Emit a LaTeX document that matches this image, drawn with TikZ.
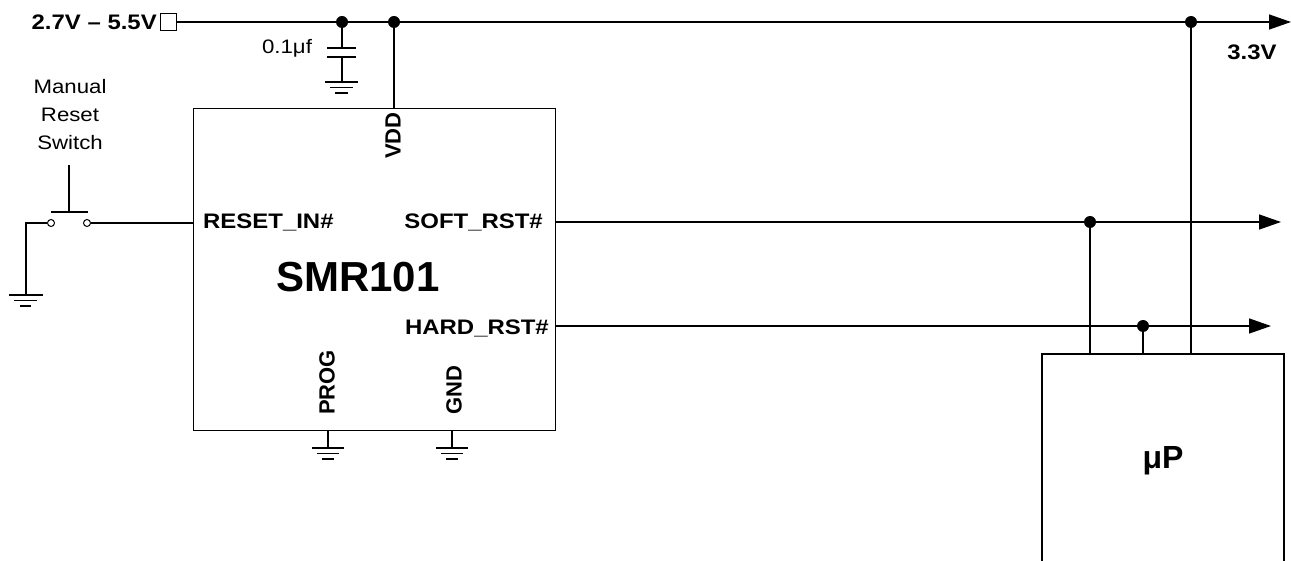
\documentclass[tikz,border=0pt]{standalone}
\usepackage{fontspec}
\usepackage{graphicx}
\setmainfont{Liberation Sans}
\usetikzlibrary{arrows.meta}
\newcommand{\hstretch}[1]{\scalebox{1.14}[1]{#1}}
\begin{document}
\begin{tikzpicture}[x=1pt,y=-1pt,
  wire/.style={line width=1.4pt},
  arr/.style={wire,-{Triangle[length=22pt,width=15pt]}},
  dot/.style={circle,fill=black,inner sep=0pt,minimum size=12pt},
  ring/.style={circle,draw,line width=1pt,fill=white,inner sep=0pt,minimum size=7pt},
  lbl/.style={font=\bfseries\fontsize{21}{24}\selectfont,inner sep=0pt},
  vlbl/.style={font=\bfseries\fontsize{22}{24}\selectfont,inner sep=0pt,rotate=90,anchor=west},
  txt/.style={font=\fontsize{19.5}{28}\selectfont,inner sep=0pt,align=center},
  box/.style={draw,line width=1.4pt,inner sep=0pt}
]
\useasboundingbox (0,0) rectangle (1291,561);

% supply input
\node[draw,line width=1pt,minimum width=16pt,minimum height=17pt,inner sep=0pt] (vin) at (168,22) {};
\node[lbl,anchor=east] (vinl) at (157,22) {\hstretch{2.7V -- 5.5V}};
\node[dot] (dcap) at (342,22) {};
\node[dot] (dvdd) at (394,22) {};
\node[dot] (dvcc) at (1191,22) {};
\coordinate (vout) at (1291,22);
\draw[wire] (vin.east) -- (dcap.center) -- (dvdd.center) -- (dvcc.center);
\draw[arr] (dvcc.center) -- (vout);
\node[lbl,anchor=center] (v33) at (1252,52) {\hstretch{3.3V}};

% capacitor
\coordinate (cp1) at (342,48);
\coordinate (cp2) at (342,57);
\coordinate (cg) at (342,82);
\draw[wire] (dcap.center) -- (cp1);
\draw[wire] (cp1 -| 327,0) -- (cp1 -| 356,0);
\draw[wire] (cp2 -| 327,0) -- (cp2 -| 356,0);
\draw[wire] (cp2) -- (cg);
\draw[wire] (cg -| 325,0) -- (cg -| 358,0);
\draw[wire] (330,87.5) -- (353,87.5);
\draw[wire] (335,93) -- (348,93);
\node[txt,anchor=center] (capl) at (287,48) {\hstretch{0.1μf}};

% chip
\node[box,minimum width=362pt,minimum height=322pt,anchor=north west] (chip) at (193,108) {};
\draw[wire] (dvdd.center) -- (dvdd.center |- chip.north);
\node[vlbl] (vddl) at (393,159) {VDD};
\node[lbl,anchor=west] (rstin) at (203,222) {\hstretch{RESET\_IN\#}};
\node[lbl,anchor=east] (softl) at (543,222) {\hstretch{SOFT\_RST\#}};
\node[lbl,anchor=east] (hardl) at (549,328) {\hstretch{HARD\_RST\#}};
\node[font=\bfseries\fontsize{42}{46}\selectfont,inner sep=0pt] (name) at (358,277) {SMR101};
\node[vlbl] (progl) at (327,415) {PROG};
\node[vlbl] (gndl) at (454,415) {GND};

% chip grounds
\foreach \gx/\gn in {328/gp,452/gg}{
  \coordinate (\gn) at (\gx,448);
  \draw[wire] (\gx,430) -- (\gn);
  \draw[wire] (\gx-16,448) -- (\gx+16,448);
  \draw[wire] (\gx-11,453.5) -- (\gx+11,453.5);
  \draw[wire] (\gx-6,459) -- (\gx+6,459);
}

% switch
\node[ring] (s1) at (51,223) {};
\node[ring] (s2) at (87,223) {};
\coordinate (sg) at (26,295);
\draw[wire] (s1.west) -- (26,223) -- (sg);
\draw[wire] (9,295) -- (43,295);
\draw[wire] (14,300.5) -- (37,300.5);
\draw[wire] (20,306) -- (31,306);
\draw[wire] (s2.east) -- (chip.west |- s2);
\draw[wire] (51,212) -- (88,212);
\draw[wire] (69,212) -- (69,165);
\node[txt,anchor=north] (swl) at (70,79) {\hstretch{Manual}\\\hstretch{Reset}\\\hstretch{Switch}};

% outputs
\node[dot] (dsoft) at (1090,222) {};
\node[dot] (dhard) at (1143,326) {};
\coordinate (softout) at (1281,222);
\coordinate (hardout) at (1271,326);
\draw[wire] (chip.east |- 0,222) -- (dsoft.center);
\draw[arr] (dsoft.center) -- (softout);
\draw[wire] (chip.east |- 0,326) -- (dhard.center);
\draw[arr] (dhard.center) -- (hardout);

% microprocessor
\coordinate (upl) at (1042,561);
\coordinate (upr) at (1284,561);
\coordinate (uptl) at (1042,354);
\coordinate (uptr) at (1284,354);
\draw[wire] (upl) -- (uptl) -- (uptr) -- (upr);
\draw[wire] (dsoft.center) -- (dsoft.center |- uptl);
\draw[wire] (dhard.center) -- (dhard.center |- uptl);
\draw[wire] (dvcc.center) -- (dvcc.center |- uptl);
\node[font=\bfseries\fontsize{32}{36}\selectfont,inner sep=0pt] (up) at (1163,461) {μP};
\end{tikzpicture}
\end{document}
